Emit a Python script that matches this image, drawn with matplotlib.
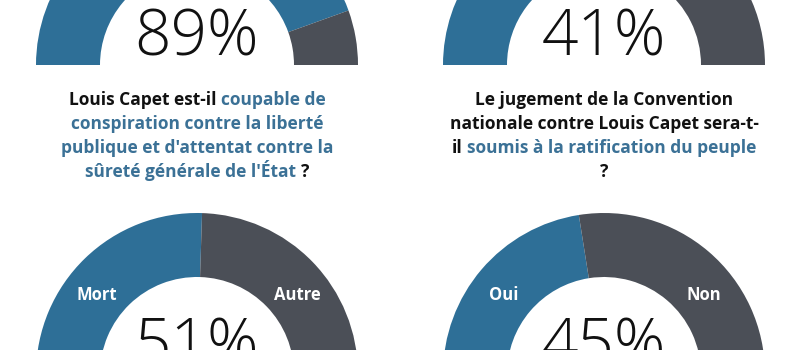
import matplotlib
matplotlib.use("Agg")
import matplotlib.pyplot as plt
import numpy as np

# Vote results (share of the blue option, in percent)
gauge_values = [89, 41, 51, 45]
gauge_labels = [None, None, ("Mort", "Autre"), ("Oui", "Non")]

left_question = [
    [("Louis Capet est-il ", "k"), ("coupable de", "b")],
    [("conspiration contre la liberté", "b")],
    [("publique et d'attentat contre la", "b")],
    [("sûreté générale de l'État", "b"), (" ?", "k")],
]
right_question = [
    [("Le jugement de la Convention", "k")],
    [("nationale contre Louis Capet sera-t-", "k")],
    [("il ", "k"), ("soumis à la ratification du peuple", "b")],
    [("?", "k")],
]

BLUE = "#2e6f97"
GREY = "#4b4f57"
TEXT_BLUE = "#3b7196"
TEXT_BLACK = "#111111"
FONT = "Open Sans"

W, H = 800, 350
fig = plt.figure(figsize=(W / 100, H / 100), dpi=100)
ax = fig.add_axes([0, 0, 1, 1])

R_OUT, RING = 161, 64
centers = [(197, H - 65), (604, H - 65), (197, H - 374), (604, H - 374)]

for (cx, cy), val, labels in zip(centers, gauge_values, gauge_labels):
    wedges, _ = ax.pie([val, 100 - val, 100], colors=[BLUE, GREY, "none"],
                       startangle=180, counterclock=False, center=(cx, cy),
                       radius=R_OUT, frame=True,
                       wedgeprops=dict(width=RING, linewidth=0))
    wedges[2].set_visible(False)
    ax.text(cx, cy + 26, f"{val}%", ha="center", va="center",
            fontsize=46, family=FONT, fontweight="light", color="#111111")
    if labels:
        rm = R_OUT - RING / 2
        for ang, lab in zip((141, 39), labels):
            a = np.deg2rad(ang)
            ax.text(cx + rm * np.cos(a), cy + rm * np.sin(a), lab,
                    ha="center", va="center_baseline", fontsize=12,
                    family=FONT, fontweight="bold", color="white")

renderer = fig.canvas.get_renderer()


def text_width(s, size):
    t = ax.text(0, 0, s, fontsize=size, family=FONT, fontweight="bold")
    w = t.get_window_extent(renderer).width
    t.remove()
    return w


def draw_question(lines, cx, baseline0, step, size=12.5):
    space = text_width("a a", size) - text_width("aa", size)
    for i, runs in enumerate(lines):
        y = H - (baseline0 + i * step)
        widths = []
        for s, _ in runs:
            core = s.strip()
            lead = len(s) - len(s.lstrip())
            trail = len(s) - len(s.rstrip())
            widths.append((text_width(core, size), lead, trail))
        total = sum(w + (l + t) * space for w, l, t in widths)
        x = cx - total / 2
        for (s, c), (w, l, t) in zip(runs, widths):
            x += l * space
            ax.text(x, y, s.strip(), ha="left", va="baseline", fontsize=size,
                    family=FONT, fontweight="bold",
                    color=TEXT_BLUE if c == "b" else TEXT_BLACK)
            x += w + t * space


draw_question(left_question, 197, 105, 24)
draw_question(right_question, 604, 105, 24)

ax.set_xlim(0, W)
ax.set_ylim(0, H)
ax.set_aspect("auto")
ax.axis("off")
fig.savefig("out.png", dpi=100, facecolor="white")
